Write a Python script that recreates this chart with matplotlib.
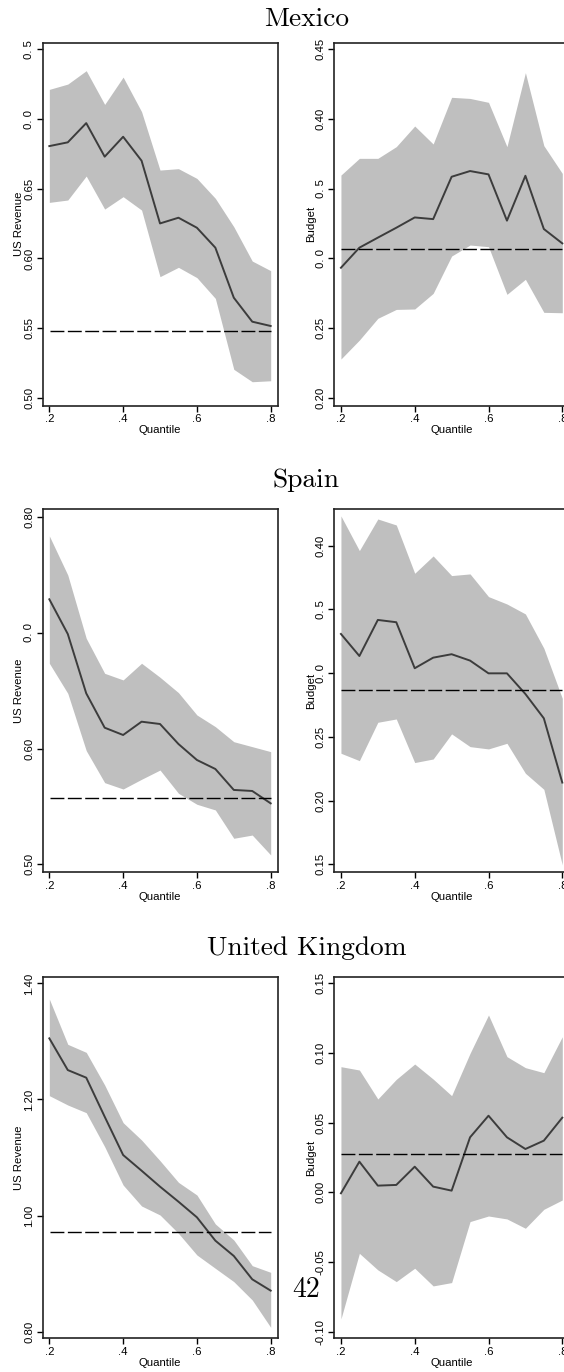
import numpy as np
import matplotlib
matplotlib.use("Agg")
import matplotlib.pyplot as plt

# quantiles on the x axis
quantiles = [0.20, 0.25, 0.30, 0.35, 0.40, 0.45, 0.50, 0.55, 0.60, 0.65, 0.70, 0.75, 0.80]
xtick_vals = [0.2, 0.4, 0.6, 0.8]
xtick_labels = [".2", ".4", ".6", ".8"]

# Mexico - US Revenue
mx_rev = [0.6806, 0.6833, 0.6971, 0.6730, 0.6873, 0.6701, 0.6251, 0.6292, 0.6220, 0.6077, 0.5718, 0.5546, 0.5515]
mx_rev_hi = [0.7213, 0.7251, 0.7347, 0.7105, 0.7301, 0.7053, 0.6634, 0.6644, 0.6574, 0.6431, 0.6227, 0.5981, 0.5912]
mx_rev_lo = [0.6402, 0.6419, 0.6591, 0.6354, 0.6443, 0.6347, 0.5869, 0.5936, 0.5862, 0.5713, 0.5204, 0.5115, 0.5122]
mx_rev_ols = 0.5479
mx_rev_ticks = [0.75, 0.70, 0.65, 0.60, 0.55, 0.50]
mx_rev_labels = ["0. 5", "0. 0", "0.65", "0.60", "0.55", "0.50"]

# Mexico - Budget
mx_bud = [0.2933, 0.3077, 0.3149, 0.3220, 0.3294, 0.3282, 0.3586, 0.3627, 0.3603, 0.3271, 0.3593, 0.3211, 0.3108]
mx_bud_hi = [0.3598, 0.3718, 0.3718, 0.3802, 0.3950, 0.3821, 0.4156, 0.4148, 0.4120, 0.3802, 0.4333, 0.3809, 0.3610]
mx_bud_lo = [0.2278, 0.2414, 0.2570, 0.2634, 0.2637, 0.2749, 0.3017, 0.3096, 0.3084, 0.2742, 0.2850, 0.2613, 0.2610]
mx_bud_ols = 0.3065
mx_bud_ticks = [0.45, 0.40, 0.35, 0.30, 0.25, 0.20]
mx_bud_labels = ["0.45", "0.40", "0. 5", "0. 0", "0.25", "0.20"]

# Spain - US Revenue
es_rev = [0.7291, 0.6991, 0.6478, 0.6181, 0.6118, 0.6233, 0.6213, 0.6040, 0.5902, 0.5824, 0.5643, 0.5634, 0.5527]
es_rev_hi = [0.7839, 0.7501, 0.6954, 0.6651, 0.6594, 0.6738, 0.6617, 0.6484, 0.6291, 0.6190, 0.6060, 0.6017, 0.5974]
es_rev_lo = [0.6738, 0.6478, 0.5983, 0.5706, 0.5651, 0.5735, 0.5815, 0.5614, 0.5519, 0.5470, 0.5225, 0.5253, 0.5081]
es_rev_ols = 0.5576
es_rev_ticks = [0.80, 0.70, 0.60, 0.50]
es_rev_labels = ["0.80", "0. 0", "0.60", "0.50"]

# Spain - Budget
es_bud = [0.3307, 0.3134, 0.3417, 0.3399, 0.3038, 0.3121, 0.3148, 0.3098, 0.2998, 0.2998, 0.2836, 0.2645, 0.2141]
es_bud_hi = [0.4233, 0.3961, 0.4209, 0.4162, 0.3783, 0.3919, 0.3765, 0.3778, 0.3600, 0.3542, 0.3464, 0.3195, 0.2802]
es_bud_lo = [0.2371, 0.2313, 0.2614, 0.2640, 0.2298, 0.2326, 0.2523, 0.2423, 0.2405, 0.2449, 0.2214, 0.2088, 0.1495]
es_bud_ols = 0.2868
es_bud_ticks = [0.40, 0.35, 0.30, 0.25, 0.20, 0.15]
es_bud_labels = ["0.40", "0. 5", "0. 0", "0.25", "0.20", "0.15"]

# United Kingdom - US Revenue
uk_rev = [1.3053, 1.2507, 1.2376, 1.1704, 1.1044, 1.0774, 1.0499, 1.0240, 0.9971, 0.9569, 0.9305, 0.8903, 0.8708]
uk_rev_hi = [1.3730, 1.2950, 1.2812, 1.2249, 1.1601, 1.1302, 1.0946, 1.0573, 1.0355, 0.9856, 0.9580, 0.9138, 0.9023]
uk_rev_lo = [1.2066, 1.1905, 1.1773, 1.1187, 1.0527, 1.0166, 1.0011, 0.9695, 0.9322, 0.9092, 0.8863, 0.8547, 0.8076]
uk_rev_ols = 0.9724
uk_rev_ticks = [1.40, 1.20, 1.00, 0.80]
uk_rev_labels = ["1.40", "1.20", "1.00", "0.80"]

# United Kingdom - Budget
uk_bud = [-0.0007, 0.0220, 0.0048, 0.0053, 0.0184, 0.0041, 0.0012, 0.0395, 0.0550, 0.0395, 0.0311, 0.0371, 0.0536]
uk_bud_hi = [0.0902, 0.0878, 0.0670, 0.0811, 0.0921, 0.0813, 0.0694, 0.0998, 0.1273, 0.0974, 0.0895, 0.0859, 0.1117]
uk_bud_lo = [-0.0909, -0.0438, -0.0557, -0.0641, -0.0545, -0.0672, -0.0648, -0.0210, -0.0170, -0.0191, -0.0258, -0.0122, -0.0055]
uk_bud_ols = 0.0273
uk_bud_ticks = [0.15, 0.10, 0.05, 0.00, -0.05, -0.10]
uk_bud_labels = ["0.15", "0.10", "0.05", "0.00", "-0.05", "-0.10"]

titles = ["Mexico", "Spain", "United Kingdom"]

W, H = 564, 1372
fig = plt.figure(figsize=(W / 100, H / 100), dpi=100)
plt.rcParams["font.family"] = ["Liberation Sans", "DejaVu Sans"]


def rect(left, top, right, bottom):
    return [left / W, 1 - bottom / H, (right - left) / W, (bottom - top) / H]


def panel(r, line, hi, lo, ols, ticks, labels, ylim, ylabel):
    ax = fig.add_axes(r)
    ax.fill_between(quantiles, lo, hi, color="#bfbfbf", linewidth=0)
    ax.plot(quantiles, line, color="#3c3c3c", linewidth=1.4)
    ax.axhline(ols, xmin=0.03, xmax=0.97, color="black", linewidth=1.0, dashes=(10, 2.5))
    ax.set_xlim(0.182, 0.819)
    ax.set_ylim(*ylim)
    ax.set_xticks(xtick_vals)
    ax.set_xticklabels(xtick_labels)
    ax.set_yticks(ticks)
    ax.set_yticklabels(labels, rotation=90, va="center")
    ax.tick_params(direction="out", length=4, width=1.0, labelsize=8.2, pad=2)
    ax.set_xlabel("Quantile", fontsize=8.2, labelpad=1)
    ax.set_ylabel(ylabel, fontsize=8.2, labelpad=0)
    for s in ax.spines.values():
        s.set_linewidth(1.2)
        s.set_color("#222222")
    return ax


rows = [(42.7, 405.7), (509.3, 872.3), (976.7, 1338.3)]
left_x = (42.7, 277.7)
right_x = (334.3, 569.3)   # right panels run past the page edge, as in the scan

panel(rect(left_x[0], rows[0][0], left_x[1], rows[0][1]), mx_rev, mx_rev_hi, mx_rev_lo, mx_rev_ols,
      mx_rev_ticks, mx_rev_labels, (0.4943, 0.7548), "US Revenue")
panel(rect(right_x[0], rows[0][0], right_x[1], rows[0][1]), mx_bud, mx_bud_hi, mx_bud_lo, mx_bud_ols,
      mx_bud_ticks, mx_bud_labels, (0.1943, 0.4548), "Budget")
panel(rect(left_x[0], rows[1][0], left_x[1], rows[1][1]), es_rev, es_rev_hi, es_rev_lo, es_rev_ols,
      es_rev_ticks, es_rev_labels, (0.4931, 0.8069), "US Revenue")
panel(rect(right_x[0], rows[1][0], right_x[1], rows[1][1]), es_bud, es_bud_hi, es_bud_lo, es_bud_ols,
      es_bud_ticks, es_bud_labels, (0.1437, 0.4285), "Budget")
panel(rect(left_x[0], rows[2][0], left_x[1], rows[2][1]), uk_rev, uk_rev_hi, uk_rev_lo, uk_rev_ols,
      uk_rev_ticks, uk_rev_labels, (0.7887, 1.4115), "US Revenue")
panel(rect(right_x[0], rows[2][0], right_x[1], rows[2][1]), uk_bud, uk_bud_hi, uk_bud_lo, uk_bud_ols,
      uk_bud_ticks, uk_bud_labels, (-0.1048, 0.1548), "Budget")

# country titles and page number in a Computer Modern look
for t, base in zip(titles, [26, 487, 955]):
    fig.text(306.5 / W, 1 - base / H, t, ha="center", va="baseline",
             fontsize=19.7, family=["cmr10", "DejaVu Serif"])
fig.text(306.5 / W, 1 - 1297 / H, "42", ha="center", va="baseline",
         fontsize=20, family=["cmr10", "DejaVu Serif"])

fig.savefig("out.png", dpi=100)
